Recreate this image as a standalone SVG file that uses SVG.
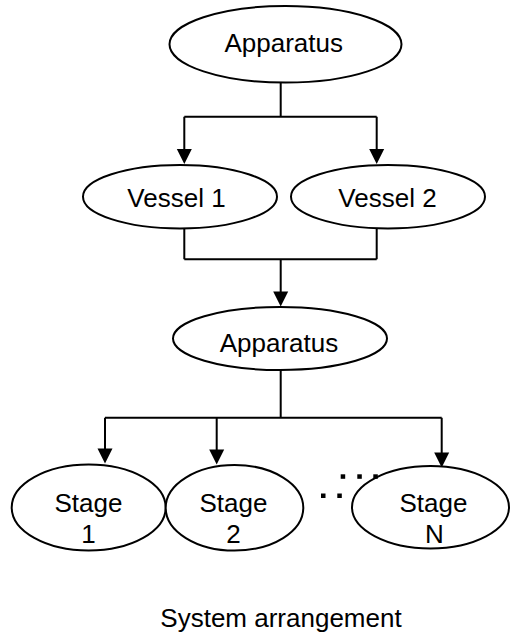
<svg xmlns="http://www.w3.org/2000/svg" width="510" height="634" viewBox="0 0 510 634">
<defs>
<style>
.n ellipse{fill:#fff;stroke:#000;stroke-width:2}
text{font-family:"Liberation Sans",Arial,sans-serif;font-size:26px;fill:#000;text-anchor:middle}
.c path{fill:none;stroke:#000;stroke-width:2}
.c polygon{fill:#000;stroke:none}
.d rect{fill:#000}
</style>
</defs>
<rect width="510" height="634" fill="#fff"/>
<g class="c" id="connectors">
<path d="M280.7,83 V116.7 M184.3,116.7 H376.7 M184.3,116.7 V150 M376.7,116.7 V150"/>
<polygon points="176.8,149 191.8,149 184.3,164"/>
<polygon points="369.2,149 384.2,149 376.7,164"/>
<path d="M184.3,228 V259.3 M376.7,228 V259.3 M184.3,259.3 H376.7 M280.7,259.3 V292"/>
<polygon points="273.2,291.5 288.2,291.5 280.7,306.5"/>
<path d="M280.7,370 V417.7 M105,417.7 H441.7 M105,417.7 V449 M216.7,417.7 V450 M441.7,417.7 V453"/>
<polygon points="97.5,448.5 112.5,448.5 105,463.5"/>
<polygon points="209.2,449.5 224.2,449.5 216.7,464.5"/>
<polygon points="434.2,452.5 449.2,452.5 441.7,467.5"/>
</g>
<g class="n" id="apparatus1">
<ellipse cx="285.5" cy="44.3" rx="116" ry="38.3"/>
<text x="283.7" y="51.7">Apparatus</text>
</g>
<g class="n" id="vessel1">
<ellipse cx="180" cy="196.7" rx="97" ry="31.7"/>
<text x="176.5" y="206.7">Vessel 1</text>
</g>
<g class="n" id="vessel2">
<ellipse cx="388" cy="196.7" rx="97" ry="31.7"/>
<text x="387.5" y="206.7">Vessel 2</text>
</g>
<g class="n" id="apparatus2">
<ellipse cx="280" cy="338.5" rx="107" ry="31.5"/>
<text x="279" y="351.7">Apparatus</text>
</g>
<g class="n" id="stage1">
<ellipse cx="88.7" cy="507.5" rx="77" ry="43"/>
<text x="88.5" y="511.7">Stage</text>
<text x="88.5" y="543.3">1</text>
</g>
<g class="n" id="stage2">
<ellipse cx="234.5" cy="507.8" rx="68.8" ry="42.8"/>
<text x="233.5" y="511.7">Stage</text>
<text x="233.5" y="543.3">2</text>
</g>
<g class="n" id="stageN">
<ellipse cx="430.5" cy="507.2" rx="78.5" ry="41.2"/>
<text x="433.5" y="511.7">Stage</text>
<text x="434.5" y="543.3">N</text>
</g>
<g class="d" id="ellipsis">
<rect x="340.7" y="474.3" width="4.5" height="4.5"/>
<rect x="357.3" y="474.3" width="4.5" height="4.5"/>
<rect x="373.3" y="474.3" width="4.5" height="4.5"/>
<rect x="321" y="493.5" width="4.5" height="4.5"/>
<rect x="337.3" y="493.5" width="4.5" height="4.5"/>
</g>
<text x="281" y="626.5">System arrangement</text>
</svg>
